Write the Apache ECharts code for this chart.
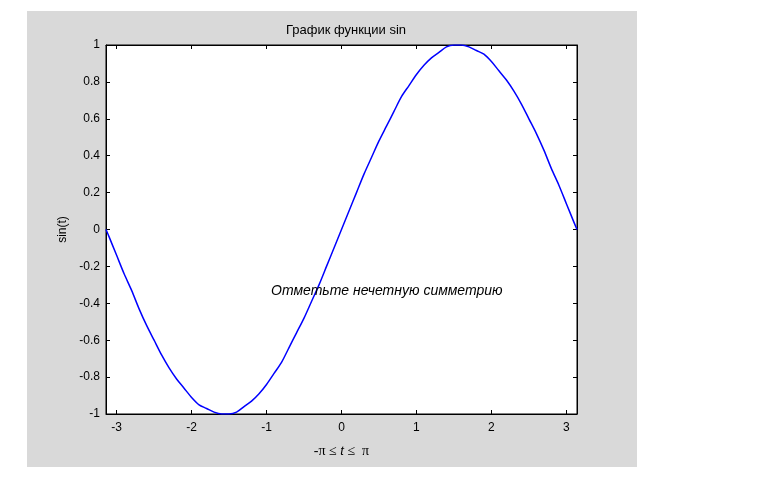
<!DOCTYPE html>
<html>
<head>
<meta charset="utf-8">
<script src="https://cdn.jsdelivr.net/npm/echarts@6/dist/echarts.min.js"></script>
<style>html,body{margin:0;padding:0;background:#fff}#c{width:775px;height:488px}</style>
</head>
<body>
<div id="c"></div>
<script>
var titleText = 'График функции sin';
var xLabelParts = ['-π ≤ ', 't', ' ≤  π'];
var yLabel = 'sin(t)';
var noteText = 'Отметьте нечетную симметрию';
var noteAt = [-0.94, -0.333];
var xTicks = [-3, -2, -1, 0, 1, 2, 3];
var tValues = [-3.1416, -3.1, -3.0, -2.9, -2.8, -2.7, -2.6, -2.5, -2.4, -2.3, -2.2, -2.1, -2.0, -1.9, -1.8, -1.7, -1.6, -1.5, -1.4, -1.3, -1.2, -1.1, -1.0, -0.9, -0.8, -0.7, -0.6, -0.5, -0.4, -0.3, -0.2, -0.1, 0,
  0.1, 0.2, 0.3, 0.4, 0.5, 0.6, 0.7, 0.8, 0.9, 1.0, 1.1, 1.2, 1.3, 1.4, 1.5, 1.6, 1.7, 1.8, 1.9, 2.0, 2.1, 2.2, 2.3, 2.4, 2.5, 2.6, 2.7, 2.8, 2.9, 3.0, 3.1, 3.1416];
var sinValues = [0, -0.04, -0.14, -0.24, -0.33, -0.43, -0.52, -0.60, -0.68, -0.75, -0.81, -0.86, -0.91, -0.95, -0.97, -0.99, -1.00, -1.00, -0.99, -0.96, -0.93, -0.89, -0.84, -0.78, -0.72, -0.64, -0.56, -0.48, -0.39, -0.30, -0.20, -0.10, 0,
  0.10, 0.20, 0.30, 0.39, 0.48, 0.56, 0.64, 0.72, 0.78, 0.84, 0.89, 0.93, 0.96, 0.99, 1.00, 1.00, 0.99, 0.97, 0.95, 0.91, 0.86, 0.81, 0.75, 0.68, 0.60, 0.52, 0.43, 0.33, 0.24, 0.14, 0.04, 0];

var data = tValues.map(function (t, i) { return [t, sinValues[i]]; });
var font = '"Liberation Sans", Arial, sans-serif';
var chart = echarts.init(document.getElementById('c'), null, {renderer: 'canvas'});
var axisLine = {show: true, onZero: false, lineStyle: {color: '#000', width: 1}};
var tick = {show: true, inside: true, length: 4, lineStyle: {color: '#000'}};
chart.setOption({
  animation: false,
  backgroundColor: '#fff',
  graphic: [{type: 'rect', z: -10, shape: {x: 27, y: 11, width: 610, height: 456}, style: {fill: '#d9d9d9'}}],
  title: {text: titleText, left: 341, top: 19, textAlign: 'center', textStyle: {fontFamily: font, fontSize: 13, fontWeight: 'normal', color: '#000'}},
  grid: {left: 106, top: 45, width: 471, height: 369, show: true, backgroundColor: '#fff', borderColor: '#000', borderWidth: 1},
  xAxis: [{
    type: 'value', min: -3.1416, max: 3.1416, position: 'bottom',
    axisLine: axisLine, splitLine: {show: false},
    axisTick: Object.assign({customValues: xTicks}, tick),
    axisLabel: {customValues: xTicks, color: '#000', fontFamily: font, fontSize: 12, margin: 8},
    name: xLabelParts[0] + '{i|' + xLabelParts[1] + '}' + xLabelParts[2], nameLocation: 'middle', nameGap: 30,
    nameTextStyle: {color: '#000', fontFamily: '"Liberation Serif", "Times New Roman", serif', fontSize: 14,
      rich: {i: {fontStyle: 'italic', fontFamily: '"Liberation Sans", Arial, sans-serif', fontSize: 13, color: '#000'}}}
  }, {
    type: 'value', min: -3.1416, max: 3.1416, position: 'top',
    axisLine: axisLine, splitLine: {show: false},
    axisTick: Object.assign({customValues: xTicks}, tick),
    axisLabel: {show: false}
  }],
  yAxis: [{
    type: 'value', min: -1, max: 1, interval: 0.2, position: 'left',
    axisLine: axisLine, splitLine: {show: false}, axisTick: tick,
    axisLabel: {color: '#000', fontFamily: font, fontSize: 12, margin: 6},
    name: yLabel, nameLocation: 'middle', nameGap: 29,
    nameTextStyle: {color: '#000', fontFamily: font, fontSize: 12}
  }, {
    type: 'value', min: -1, max: 1, interval: 0.2, position: 'right',
    axisLine: axisLine, splitLine: {show: false}, axisTick: tick,
    axisLabel: {show: false}
  }],
  series: [{
    type: 'line', data: data, smooth: 0.3, symbol: 'none',
    lineStyle: {color: '#0000ff', width: 1.5},
    markPoint: {
      symbol: 'circle', symbolSize: 0,
      data: [{coord: noteAt, value: noteText}],
      label: {show: true, position: 'right', distance: 0, formatter: noteText, color: '#000', fontFamily: font, fontSize: 14, fontStyle: 'italic'}
    }
  }]
});
</script>
</body>
</html>
